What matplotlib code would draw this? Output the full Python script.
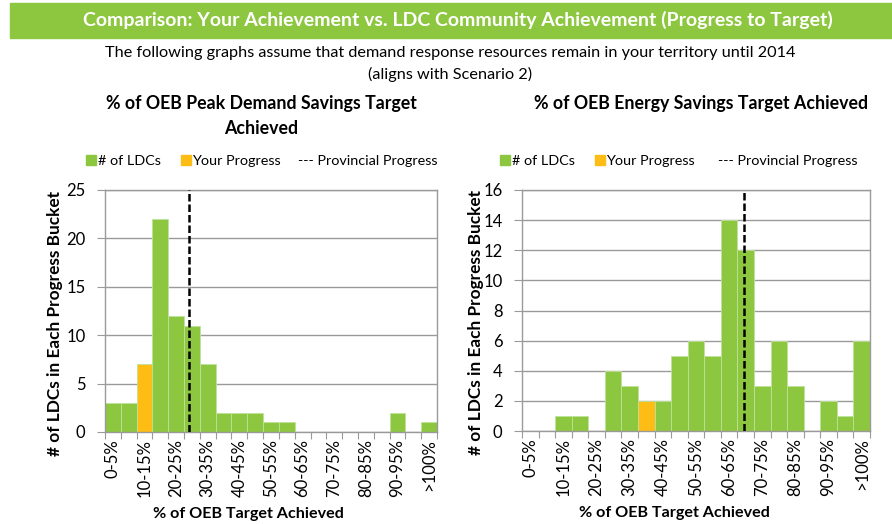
import matplotlib.pyplot as plt
from matplotlib.patches import Patch, Rectangle

plt.rcParams["font.family"] = ["Lato", "DejaVu Sans"]

buckets = ["0-5%", "5-10%", "10-15%", "15-20%", "20-25%", "25-30%", "30-35%",
           "35-40%", "40-45%", "45-50%", "50-55%", "55-60%", "60-65%", "65-70%",
           "70-75%", "75-80%", "80-85%", "85-90%", "90-95%", "95-100%", ">100%"]

peak_counts = [3, 3, 7, 22, 12, 11, 7, 2, 2, 2, 1, 1, 0, 0, 0, 0, 0, 0, 2, 0, 1]
energy_counts = [0, 0, 1, 1, 0, 4, 3, 2, 2, 5, 6, 5, 14, 12, 3, 6, 3, 0, 2, 1, 6]

# bucket holding "your progress" for each chart
your_bucket = [2, 7]
# provincial progress in % of target
provincial = [26.7, 67.0]

titles = ["% of OEB Peak Demand Savings Target\nAchieved",
          "% of OEB Energy Savings Target Achieved"]
ymax = [25, 16]
ystep = [5, 2]

GREEN = "#8dc63f"
ORANGE = "#fdbd14"
GRID = "#9a9a9a"
W, H = 892, 524

fig = plt.figure(figsize=(W / 100, H / 100), dpi=100)

# header banner
fig.patches.append(Rectangle((10 / W, 1 - 38 / H), 882 / W, 35 / H,
                             transform=fig.transFigure, color=GREEN, zorder=0))
fig.text(0.513, 1 - 20 / H,
         "Comparison: Your Achievement vs. LDC Community Achievement (Progress to Target)",
         color="white", fontsize=14, fontweight="bold", ha="center", va="center")
fig.text(0.505, 1 - 53 / H,
         "The following graphs assume that demand response resources remain in your territory until 2014",
         fontsize=11.7, ha="center", va="center")
fig.text(0.505, 1 - 74 / H, "(aligns with Scenario 2)",
         fontsize=11.7, ha="center", va="center")

axes_pos = [[105 / W, 92 / H, 332 / W, 242 / H],
            [522 / W, 93 / H, 348 / W, 241 / H]]
title_xy = [(261 / W, 1 - 116 / H), (701 / W, 1 - 104 / H)]
legend_x = [(86 - 105) / 332, (500 - 522) / 348]
prov_x = [(298 - 105) / 332, (718 - 522) / 348]
ylabel_x = [(63 - 105) / 332, (484 - 522) / 348]
xlabel_x = [(248 - 105) / 332, (674 - 522) / 348]

for k, counts in enumerate([peak_counts, energy_counts]):
    ax = fig.add_axes(axes_pos[k])
    x = list(range(len(buckets)))
    colors = [ORANGE if i == your_bucket[k] else GREEN for i in x]
    ax.bar(x, counts, width=1.0, color=colors, edgecolor="#bfe29a",
           linewidth=0.6, zorder=2)
    ax.axvline(provincial[k] / 5 - 0.5, color="black", linestyle=(0, (3, 1.2)),
               linewidth=1.8, zorder=3)

    ax.set_xlim(-0.5, len(buckets) - 0.5)
    ax.set_ylim(0, ymax[k])
    ax.set_yticks(range(0, ymax[k] + 1, ystep[k]))
    ax.yaxis.grid(True, color=GRID, linewidth=1.0, zorder=0)
    ax.set_axisbelow(True)
    for s in ax.spines.values():
        s.set_color(GRID)
        s.set_linewidth(1.0)

    ax.set_xticks([i - 0.5 for i in range(len(buckets) + 1)])
    ax.set_xticklabels([])
    ax.tick_params(axis="x", which="major", length=5, color=GRID)
    ax.set_xticks(x[::2], minor=True)
    ax.set_xticklabels(buckets[::2], minor=True, rotation=90, fontsize=12)
    ax.tick_params(axis="x", which="minor", length=0, pad=5)
    ax.tick_params(axis="y", length=6, color=GRID, labelsize=12, pad=8)

    ax.set_xlabel("% of OEB Target Achieved", fontsize=11.6, fontweight="bold")
    ax.xaxis.set_label_coords(xlabel_x[k], -(507 - 432) / 242)
    ax.set_ylabel("# of LDCs in Each Progress Bucket", fontsize=12.4,
                  fontweight="bold")
    ax.yaxis.set_label_coords(ylabel_x[k], 0.45)

    fig.text(*title_xy[k], titles[k], fontsize=12.8, fontweight="bold",
             ha="center", va="center", linespacing=1.5)

    handles = [Patch(color=GREEN), Patch(color=ORANGE)]
    labels = ["# of LDCs", "Your Progress"]
    ax.legend(handles, labels, loc="center left",
              bbox_to_anchor=(legend_x[k], 1 + 29 / 242),
              ncol=2, frameon=False, fontsize=10.4, handlelength=0.7,
              handleheight=0.7, handletextpad=0.1, columnspacing=1.4,
              borderpad=0, borderaxespad=0)
    ax.text(prov_x[k], 1 + 29 / 242, "--- Provincial Progress",
            transform=ax.transAxes, fontsize=10.4, va="center", ha="left")

fig.savefig("out.png", dpi=100)
